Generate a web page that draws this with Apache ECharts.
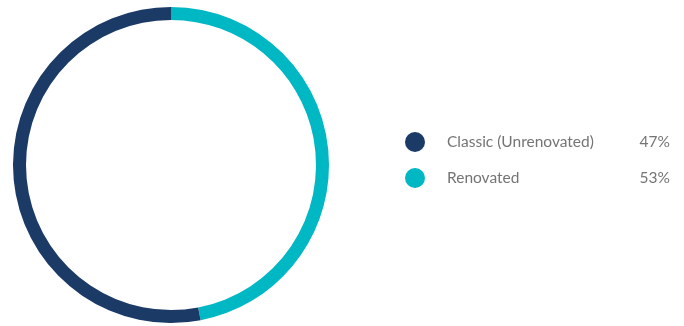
<!DOCTYPE html>
<html>
<head>
<meta charset="utf-8">
<script src="https://cdn.jsdelivr.net/npm/echarts@6/dist/echarts.min.js"></script>
<style>
    html, body { margin: 0; padding: 0; background: #fff; }
    #main { width: 684px; height: 326px; }
</style>
</head>
<body>
<div id="main"></div>
<script>
// categories and colours
var names = ['Classic (Unrenovated)', 'Renovated'];
var colors = ['#1b3a66', '#00b7c4'];
// shares printed in the legend
var legendShares = [47, 53];
// shares (navy arc is the longer one in the picture)
var ringShares = [53, 47];

var myChart = echarts.init(document.getElementById('main'));

// ring drawn clockwise from the top: Renovated first, then Classic
var ringData = [
    { name: names[1], value: ringShares[1], itemStyle: { color: colors[1] } },
    { name: names[0], value: ringShares[0], itemStyle: { color: colors[0] } }
];

var option = {
    backgroundColor: '#fff',
    legend: {
        orient: 'vertical',
        left: 400,
        top: 127,
        itemWidth: 20,
        itemHeight: 20,
        itemGap: 16,
        icon: 'circle',
        selectedMode: false,
        data: names,
        formatter: function (name) {
            var i = names.indexOf(name);
            return '{n|' + name + '}{p|' + legendShares[i] + '%}';
        },
        textStyle: {
            fontFamily: 'Lato',
            fontSize: 15.5,
            color: '#747474',
            rich: {
                n: { fontFamily: 'Lato', fontSize: 15.5, color: '#747474', width: 193, padding: [0, 0, 0, 17] },
                p: { fontFamily: 'Lato', fontSize: 15.5, color: '#747474', width: 30, align: 'right' }
            }
        }
    },
    series: [
        {
            type: 'pie',
            center: [171, 165],
            radius: [145, 158],
            startAngle: 90,
            clockwise: true,
            silent: true,
            label: { show: false },
            labelLine: { show: false },
            emphasis: { disabled: true },
            data: ringData
        }
    ]
};

myChart.setOption(option);
</script>
</body>
</html>
